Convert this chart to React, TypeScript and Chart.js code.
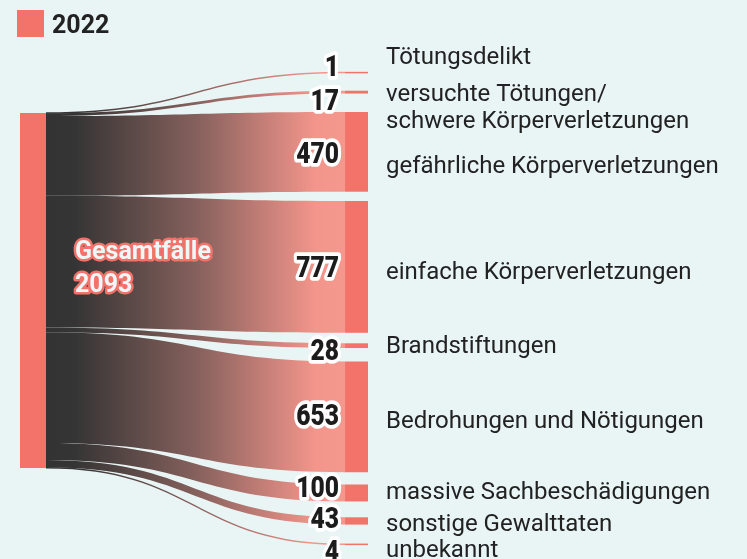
import React, { useEffect, useRef } from "react";
import { Chart, registerables } from "chart.js";

Chart.register(...registerables);

// ---------- data ----------
const legendLabel = "2022";
const sourceLabel = "Gesamtfälle";
const categories = [
  "Tötungsdelikt",
  "versuchte Tötungen/\nschwere Körperverletzungen",
  "gefährliche Körperverletzungen",
  "einfache Körperverletzungen",
  "Brandstiftungen",
  "Bedrohungen und Nötigungen",
  "massive Sachbeschädigungen",
  "sonstige Gewalttaten",
  "unbekannt",
];
const values = [1, 17, 470, 777, 28, 653, 100, 43, 4];

// ---------- layout (value units / px offsets) ----------
const firstRightTop = -238.8; // value units, top of first target node
const rightGaps = [0, 106.3, 108.6, 54.7, 62, 79.3, 72.2, 93.4, 114.4]; // value units before each target node
const valueLabelShift = [-7, 7.3, 0.6, -0.9, 3.3, -2, -6.8, -3.4, 5.7]; // px from node centre
const textBaselineShift = [-9, 8.5, 21, 12, 7.6, 11, 6, 10, 12.4]; // px from node centre (first line baseline)

const BG = "#e9f5f5";
const NODE = "#f3736a";
const TEXT = "#222222";

const sankeyPlugin = {
  id: "sankeyDraw",
  beforeDraw(chart: any) {
    const ctx = chart.ctx;
    ctx.save();
    ctx.fillStyle = BG;
    ctx.fillRect(0, 0, chart.width, chart.height);
    ctx.restore();
  },
  afterDraw(chart: any) {
    const ctx: CanvasRenderingContext2D = chart.ctx;
    const xs = chart.scales.x;
    const ys = chart.scales.y;
    const total = values.reduce((a, b) => a + b, 0);

    const lx0 = xs.getPixelForValue(0);
    const lx1 = xs.getPixelForValue(0.0747);
    const rx0 = xs.getPixelForValue(0.934);
    const rx1 = xs.getPixelForValue(1);
    const minT = 1.5;

    // right node tops
    const rightTops: number[] = [];
    let cur = firstRightTop;
    values.forEach((v, i) => {
      cur += rightGaps[i];
      rightTops.push(cur);
      cur += v;
    });

    ctx.save();
    // links
    const grad = ctx.createLinearGradient(lx1, 0, rx0, 0);
    grad.addColorStop(0, "#333333");
    grad.addColorStop(0.1, "#363535");
    grad.addColorStop(0.5, "#85605c");
    grad.addColorStop(0.9, "#f3958b");
    grad.addColorStop(1, "#f4988e");
    let srcCur = 0;
    const xm = (lx1 + rx0) / 2;
    values.forEach((v, i) => {
      let s0 = ys.getPixelForValue(srcCur);
      let s1 = ys.getPixelForValue(srcCur + v);
      let t0 = ys.getPixelForValue(rightTops[i]);
      let t1 = ys.getPixelForValue(rightTops[i] + v);
      if (s1 - s0 < minT) {
        const c = (s0 + s1) / 2;
        s0 = c - minT / 2;
        s1 = c + minT / 2;
      }
      if (t1 - t0 < minT) {
        const c = (t0 + t1) / 2;
        t0 = c - minT / 2;
        t1 = c + minT / 2;
      }
      ctx.beginPath();
      ctx.moveTo(lx1, s0);
      ctx.bezierCurveTo(xm, s0, xm, t0, rx0, t0);
      ctx.lineTo(rx0, t1);
      ctx.bezierCurveTo(xm, t1, xm, s1, lx1, s1);
      ctx.closePath();
      ctx.fillStyle = grad;
      ctx.fill();
      srcCur += v;
    });

    // nodes
    ctx.fillStyle = NODE;
    const ly0 = ys.getPixelForValue(0);
    const ly1 = ys.getPixelForValue(total);
    ctx.fillRect(lx0, ly0, lx1 - lx0, ly1 - ly0);
    values.forEach((v, i) => {
      let t0 = ys.getPixelForValue(rightTops[i]);
      let t1 = ys.getPixelForValue(rightTops[i] + v);
      if (t1 - t0 < minT) {
        const c = (t0 + t1) / 2;
        t0 = c - minT / 2;
        t1 = c + minT / 2;
      }
      ctx.fillRect(rx0, t0, rx1 - rx0, t1 - t0);
    });

    // value labels (condensed heavy)
    const sx = 0.82;
    ctx.font = "900 30px Roboto";
    ctx.textAlign = "right";
    ctx.textBaseline = "alphabetic";
    ctx.lineJoin = "round";
    values.forEach((v, i) => {
      const c = ys.getPixelForValue(rightTops[i] + v / 2);
      const y = c + valueLabelShift[i] + 10.6;
      ctx.save();
      ctx.translate(rx0 - 6, y);
      ctx.scale(sx, 1);
      ctx.lineWidth = 7.5;
      ctx.strokeStyle = "#ffffff";
      ctx.strokeText(String(v), 0, 0);
      ctx.fillStyle = "#1c1c1c";
      ctx.fillText(String(v), 0, 0);
      ctx.restore();
    });

    // category labels
    ctx.font = "24px Roboto";
    ctx.textAlign = "left";
    ctx.fillStyle = TEXT;
    categories.forEach((lab, i) => {
      const c = ys.getPixelForValue(rightTops[i] + values[i] / 2);
      const lines = lab.split("\n");
      lines.forEach((ln, j) => {
        ctx.fillText(ln, rx1 + 18, c + textBaselineShift[i] + j * 27.5);
      });
    });

    // source label
    const lc = (ly0 + ly1) / 2;
    ctx.font = "bold 25px Roboto";
    ctx.lineWidth = 5;
    ctx.strokeStyle = NODE;
    ctx.fillStyle = "#eef7f7";
    [sourceLabel, String(total)].forEach((t, j) => {
      const y = lc - 31.5 + j * 33;
      ctx.strokeText(t, lx1 + 29, y);
      ctx.fillText(t, lx1 + 29, y);
    });

    // legend
    ctx.fillStyle = NODE;
    ctx.fillRect(17, 10, 27, 27);
    ctx.font = "bold 25px Roboto";
    ctx.fillStyle = TEXT;
    ctx.fillText(legendLabel, 52, 33);
    ctx.restore();
  },
};

export default function App() {
  const ref = useRef<HTMLCanvasElement>(null);
  useEffect(() => {
    document.body.style.margin = "0";
    document.body.style.background = BG;
    const chart = new Chart(ref.current as HTMLCanvasElement, {
      type: "scatter",
      data: { datasets: [{ label: legendLabel, data: [] }] },
      options: {
        animation: false,
        responsive: false,
        devicePixelRatio: 1,
        layout: { padding: { left: 20, right: 379, top: 60, bottom: 9 } },
        plugins: { legend: { display: false }, tooltip: { enabled: false } },
        scales: {
          x: { type: "linear", min: 0, max: 1, display: false },
          y: { type: "linear", min: -312.5, max: 2576.5, reverse: true, display: false },
        },
      },
      plugins: [sankeyPlugin],
    });
    return () => chart.destroy();
  }, []);
  return (
    <div style={{ width: 747, height: 559 }}>
      <canvas ref={ref} width={747} height={559} style={{ display: "block" }} />
    </div>
  );
}
